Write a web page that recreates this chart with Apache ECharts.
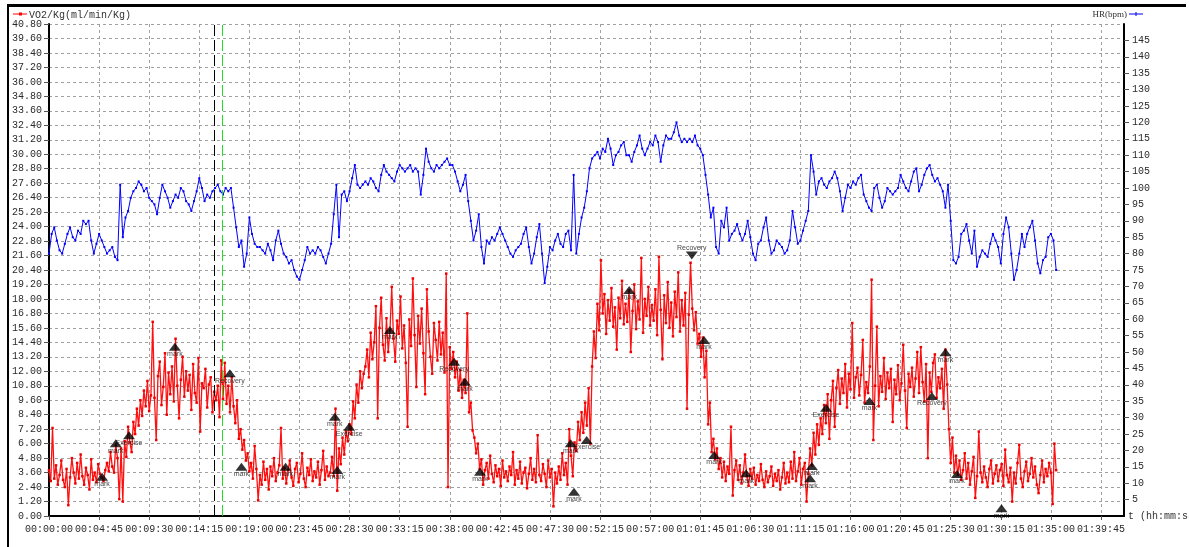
<!DOCTYPE html>
<html>
<head>
<meta charset="utf-8">
<script src="https://cdn.jsdelivr.net/npm/echarts@6/dist/echarts.min.js"></script>
<style>
html, body { margin: 0; padding: 0; background: #fff; }
#chart { width: 1189px; height: 547px; }
</style>
</head>
<body>
<div id="chart"></div>
<script>
// VO2/Kg samples, one every 10 s from 00:00:00
const vo2Step = 10
const vo2 = [
  3.8,2.9,7.3,3.1,4.2,2.6,3.4,4.6,3.0,2.4,3.9,0.9,3.2,4.8,3.6,2.7,4.4,3.1,5.1,3.3,
  2.6,4.0,3.4,2.2,4.7,3.0,3.6,2.8,4.3,3.5,3.2,2.9,3.8,4.4,3.7,5.3,4.1,3.6,5.9,4.8,
  1.4,5.6,1.2,6.2,4.9,7.4,6.1,5.3,7.8,6.8,8.9,7.5,9.6,8.3,10.4,9.1,11.2,8.7,10.0,16.1,
  9.8,6.3,11.6,12.8,9.2,10.7,13.5,8.4,11.9,10.1,12.4,9.5,14.7,10.8,8.1,11.3,13.2,9.9,12.0,10.4,
  11.7,8.8,12.6,10.2,9.4,13.1,7.0,11.0,10.6,12.2,9.0,10.9,11.5,8.6,10.3,9.6,10.8,8.2,12.9,9.7,
  12.7,9.3,10.8,8.6,11.5,9.1,7.7,9.6,6.4,7.2,5.5,6.3,4.6,5.2,3.7,4.4,3.1,5.8,3.9,1.3,
  3.4,2.6,4.5,3.0,3.9,2.2,4.1,3.3,4.8,2.9,3.6,4.2,7.3,3.1,4.0,2.7,3.8,4.6,3.2,2.5,
  3.9,4.4,2.8,3.5,5.2,3.1,2.4,4.0,3.4,4.7,2.9,3.7,3.2,4.5,2.6,3.8,5.4,3.0,4.1,3.3,
  3.6,4.9,3.3,8.9,2.1,5.6,4.3,6.5,5.1,7.0,6.2,7.6,6.8,9.5,8.1,10.9,9.4,12.0,10.6,11.8,
  12.4,13.8,11.5,15.2,13.0,14.4,17.4,8.1,15.6,18.1,14.2,12.9,16.4,13.6,15.4,19.0,14.7,12.8,16.2,15.1,
  18.2,13.9,15.8,12.7,7.4,16.3,14.1,19.7,15.0,10.7,16.6,14.3,17.2,13.5,10.1,18.8,15.3,13.2,11.8,16.0,
  14.6,12.9,16.1,13.4,15.2,11.9,20.1,2.4,14.0,12.2,13.6,11.5,12.8,10.4,12.1,9.8,11.3,10.2,16.8,8.6,
  9.4,7.1,6.5,5.2,6.0,3.9,4.7,2.6,3.8,4.4,3.1,5.0,3.5,2.8,4.2,3.3,3.9,2.5,4.6,3.2,
  3.7,2.9,4.1,3.4,5.3,2.6,3.8,3.1,4.5,2.7,3.6,4.0,2.3,3.5,4.8,3.0,3.9,2.8,6.7,3.4,
  2.9,4.3,3.5,2.4,4.6,3.2,3.9,0.8,3.6,2.7,4.1,3.0,5.2,3.4,4.4,2.6,7.2,5.0,3.3,6.1,
  5.4,7.8,6.3,8.6,6.9,9.4,7.5,10.6,6.0,12.4,15.3,13.1,17.6,15.4,21.2,16.8,18.4,15.1,17.9,16.2,
  18.9,15.7,17.3,13.8,18.1,16.4,19.5,15.9,17.6,16.1,18.7,13.6,17.0,19.2,15.5,17.8,16.3,21.4,15.2,18.0,
  16.6,19.0,15.8,17.5,16.2,18.8,15.0,21.5,17.1,13.0,18.3,16.0,19.4,15.6,17.7,14.9,18.6,16.5,20.2,15.3,
  17.9,15.8,18.5,8.9,16.7,21.0,17.2,15.4,16.9,14.3,15.1,13.2,14.8,11.5,13.7,7.6,9.4,5.3,6.4,4.7,
  5.6,3.9,4.8,3.2,4.5,2.9,4.1,3.5,7.4,1.7,3.8,4.6,3.0,4.2,2.7,3.6,5.1,3.3,2.5,3.9,
  3.1,4.0,2.6,3.4,2.9,4.3,3.0,2.4,3.7,2.8,3.3,4.1,2.5,3.5,2.9,3.8,2.2,3.2,4.4,2.7,
  3.6,2.8,4.5,3.1,5.3,2.9,3.7,4.8,2.6,3.9,4.4,1.2,3.5,5.6,4.2,6.9,5.1,7.6,5.9,8.1,
  6.8,9.2,7.7,10.1,6.4,9.6,11.2,7.4,10.6,12.1,9.3,11.4,10.2,12.6,9.0,11.8,10.5,16.0,9.8,11.5,
  12.3,10.0,11.7,14.6,9.4,11.1,10.2,12.4,19.6,6.3,10.8,15.7,9.1,11.6,10.3,13.1,9.7,11.9,10.6,12.2,
  7.8,11.3,10.1,12.5,9.6,11.0,14.2,10.4,7.3,11.8,10.7,12.3,9.9,11.4,13.6,10.2,14.0,11.1,9.5,12.6,
  4.8,11.9,10.3,12.7,13.4,9.8,11.5,10.6,12.2,8.9,13.8,10.9,7.2,4.4,6.5,3.6,5.0,3.4,4.6,3.0,
  3.8,5.2,3.1,4.4,2.6,3.7,4.9,1.5,3.3,7.0,3.6,2.8,4.1,3.2,2.4,3.9,4.6,2.7,3.5,4.2,
  2.9,3.8,4.3,2.5,5.5,3.4,2.8,4.0,1.2,3.6,2.7,4.4,5.9,3.1,2.4,3.7,4.5,2.9,3.5,4.8,
  3.2,4.1,2.6,1.9,3.4,4.6,2.8,3.9,3.3,4.4,3.6,1.0,6.0,3.8
]

// heart rate samples, one every 15 s
const hrStep = 15
const hr = [
  80,86,88,84,81,80,83,86,88,85,84,87,86,90,89,90,84,80,83,86,
  84,82,80,81,82,79,78,101,85,91,93,97,99,100,102,101,99,100,97,96,
  95,92,97,101,99,97,94,96,98,97,100,99,96,95,93,96,99,103,100,96,
  98,97,99,100,101,99,98,100,99,100,94,88,82,84,76,80,91,86,83,82,
  82,81,80,83,81,78,84,87,83,80,79,77,78,75,73,72,75,78,82,80,
  81,80,82,81,79,77,80,83,92,101,85,98,99,96,99,103,107,101,100,101,
  102,101,103,102,100,99,104,107,105,104,103,102,105,107,106,105,106,107,105,106,
  105,98,104,112,108,106,105,107,106,107,108,109,107,107,105,102,99,101,104,96,
  90,84,87,92,82,77,84,83,85,84,86,88,86,84,82,80,79,81,82,83,
  86,88,82,77,80,85,89,80,71,76,82,81,84,86,83,82,86,87,81,104,
  80,86,91,94,99,106,109,110,111,109,112,111,115,112,107,110,111,113,114,110,
  110,108,111,113,116,112,110,112,114,113,116,114,108,113,116,115,115,117,120,116,
  114,115,114,115,114,116,113,112,110,104,98,91,94,82,80,90,88,94,84,86,
  87,89,86,84,86,90,85,80,78,83,84,88,91,84,80,81,84,83,82,80,
  81,84,93,88,83,84,87,90,93,110,105,98,102,103,101,100,102,103,105,103,
  99,93,97,101,100,102,101,103,104,98,96,94,93,100,101,97,94,96,100,99,
  98,99,100,104,102,100,99,102,105,106,99,101,104,106,107,104,102,103,101,99,
  94,101,90,78,77,79,86,87,89,84,80,87,76,79,81,80,79,83,86,84,
  82,77,86,91,88,80,72,75,80,86,82,86,88,90,84,77,74,78,79,85,
  86,84,75
]

// event markers (time in s, VO2 level, text); side -1 = pointing down, label above
const markTimes = [302, 380, 455, 716, 1029, 1095, 1346, 1626, 1640, 1708, 1939, 2305, 2366, 2452, 2968,
  2987, 3059, 3301, 3657, 3727, 3784, 3966, 4330, 4340, 4421, 4668, 5023, 5100, 5166, 5419]
const markValues = [3.26, 6.03, 6.7, 14.04, 11.83, 4.09, 4.09, 8.23, 3.81, 7.4, 15.42, 12.8, 11.14, 3.67, 6.03,
  2.02, 6.3, 18.74, 21.6, 14.6, 5.06, 3.54, 3.13, 4.15, 8.98, 9.54, 9.95, 13.57, 3.48, 0.64]
const markLabels = ['mark', 'mark', 'Exercise', 'mark', 'Recovery', 'mark', 'mark', 'mark', 'mark', 'Exercise', 'mark',
  'Recovery', 'mark', 'mark', 'mark', 'mark', 'Exercise', 'mark', 'Recovery', 'mark', 'mark', 'mark', 'mark', 'mark',
  'Exercise', 'mark', 'Recovery', 'mark', 'mark', 'mark']
const markSide = markTimes.map(t => (t === 3657 ? -1 : 1))

// the two cursor lines
const cursorTimes = [939, 985]
const cursorColors = ['#000000', '#22dd22']

const xMax = 6116
const xStep = 285

const hms = s => {
  s = Math.round(s)
  const h = Math.floor(s / 3600), m = Math.floor((s % 3600) / 60), c = s % 60
  return [h, m, c].map(n => String(n).padStart(2, '0')).join(':')
}

const mono = 'Liberation Mono'
const gridLine = { show: true, lineStyle: { color: '#a0a0a0', width: 1, type: [3, 3] } }

const chart = echarts.init(document.getElementById('chart'), null, { renderer: 'canvas' })

chart.setOption({
  animation: false,
  backgroundColor: '#fff',
  grid: { left: 49, right: 65, top: 24, bottom: 31, containLabel: false, outerBoundsMode: 'none' },
  xAxis: {
    type: 'value', min: 0, max: xMax, interval: xStep,
    name: 't (hh:mm:ss)', nameLocation: 'end', nameGap: 4,
    nameTextStyle: { fontFamily: mono, fontSize: 10, color: '#333', align: 'left', verticalAlign: 'middle' },
    axisLine: { show: true, onZero: false, lineStyle: { color: '#000', width: 2 } },
    axisTick: { show: true, length: 4, lineStyle: { color: '#555' } },
    axisLabel: { formatter: hms, fontFamily: mono, fontSize: 10, color: '#2a2a2a', margin: 8, showMaxLabel: false },
    splitLine: gridLine
  },
  yAxis: [
    {
      type: 'value', min: 0, max: 40.8, interval: 1.2, position: 'left',
      axisLine: { show: true, onZero: false, lineStyle: { color: '#000', width: 2 } },
      axisTick: { show: true, length: 5, lineStyle: { color: '#555' } },
      axisLabel: { formatter: v => v.toFixed(2), fontFamily: mono, fontSize: 10, color: '#2a2a2a', margin: 7 },
      splitLine: gridLine
    },
    {
      type: 'value', min: 0, max: 150, interval: 5, position: 'right',
      axisLine: { show: true, onZero: false, lineStyle: { color: '#000', width: 2 } },
      axisTick: { show: true, length: 5, lineStyle: { color: '#555' } },
      axisLabel: { fontFamily: mono, fontSize: 10, color: '#2a2a2a', margin: 8, showMinLabel: false, showMaxLabel: false },
      splitLine: { show: false }
    }
  ],
  graphic: [
    { type: 'rect', shape: { x: 8, y: 4, width: 1178, height: 3 }, style: { fill: '#000' } },
    { type: 'rect', shape: { x: 7, y: 4, width: 2, height: 543 }, style: { fill: '#000' } },
    { type: 'line', shape: { x1: 13, y1: 14, x2: 27, y2: 14 }, style: { stroke: '#ff0000', lineWidth: 1 } },
    { type: 'rect', shape: { x: 19, y: 12.5, width: 3, height: 3 }, style: { fill: '#ff0000' } },
    { type: 'text', style: { x: 29, y: 15, text: 'VO2/Kg(ml/min/Kg)', font: '10px "Liberation Mono"', fill: '#333', textVerticalAlign: 'middle' } },
    { type: 'text', style: { x: 1127, y: 15, text: 'HR(bpm)', font: '9px "Liberation Serif"', fill: '#333', textAlign: 'right', textVerticalAlign: 'middle' } },
    { type: 'line', shape: { x1: 1129, y1: 14, x2: 1143, y2: 14 }, style: { stroke: '#0000ff', lineWidth: 1 } },
    { type: 'line', shape: { x1: 1136, y1: 12, x2: 1136, y2: 16 }, style: { stroke: '#0000ff', lineWidth: 1 } }
  ],
  series: [
    {
      name: 'HR', type: 'line', yAxisIndex: 1,
      data: hr.map((v, i) => [i * hrStep, v]),
      symbol: 'rect', symbolSize: 2, showAllSymbol: true,
      lineStyle: { color: '#0000ff', width: 1 },
      itemStyle: { color: '#0000ff' },
      silent: true
    },
    {
      name: 'VO2/Kg', type: 'line', yAxisIndex: 0,
      data: vo2.map((v, i) => [i * vo2Step, v]),
      symbol: 'rect', symbolSize: 2.5, showAllSymbol: true,
      lineStyle: { color: '#ff1010', width: 1.3 },
      itemStyle: { color: '#ee0000' },
      silent: true,
      markLine: {
        silent: true, symbol: ['none', 'none'], label: { show: false },
        data: cursorTimes.map((t, i) => ({ xAxis: t, lineStyle: { color: cursorColors[i], width: 1, type: [11, 4] } }))
      }
    },
    {
      name: 'marks', type: 'scatter', yAxisIndex: 0, z: 5,
      symbol: 'triangle', symbolSize: [12, 8],
      itemStyle: { color: '#000' },
      data: markTimes.map((t, i) => ({
        value: [t, markValues[i]],
        name: markLabels[i],
        symbolRotate: markSide[i] < 0 ? 180 : 0,
        label: { position: markSide[i] < 0 ? 'top' : 'bottom' }
      })),
      label: { show: true, formatter: '{b}', distance: 0, fontFamily: 'Liberation Sans', fontSize: 7, color: '#111' },
      silent: true
    }
  ]
})

window.addEventListener('resize', () => chart.resize())
</script>
</body>
</html>
